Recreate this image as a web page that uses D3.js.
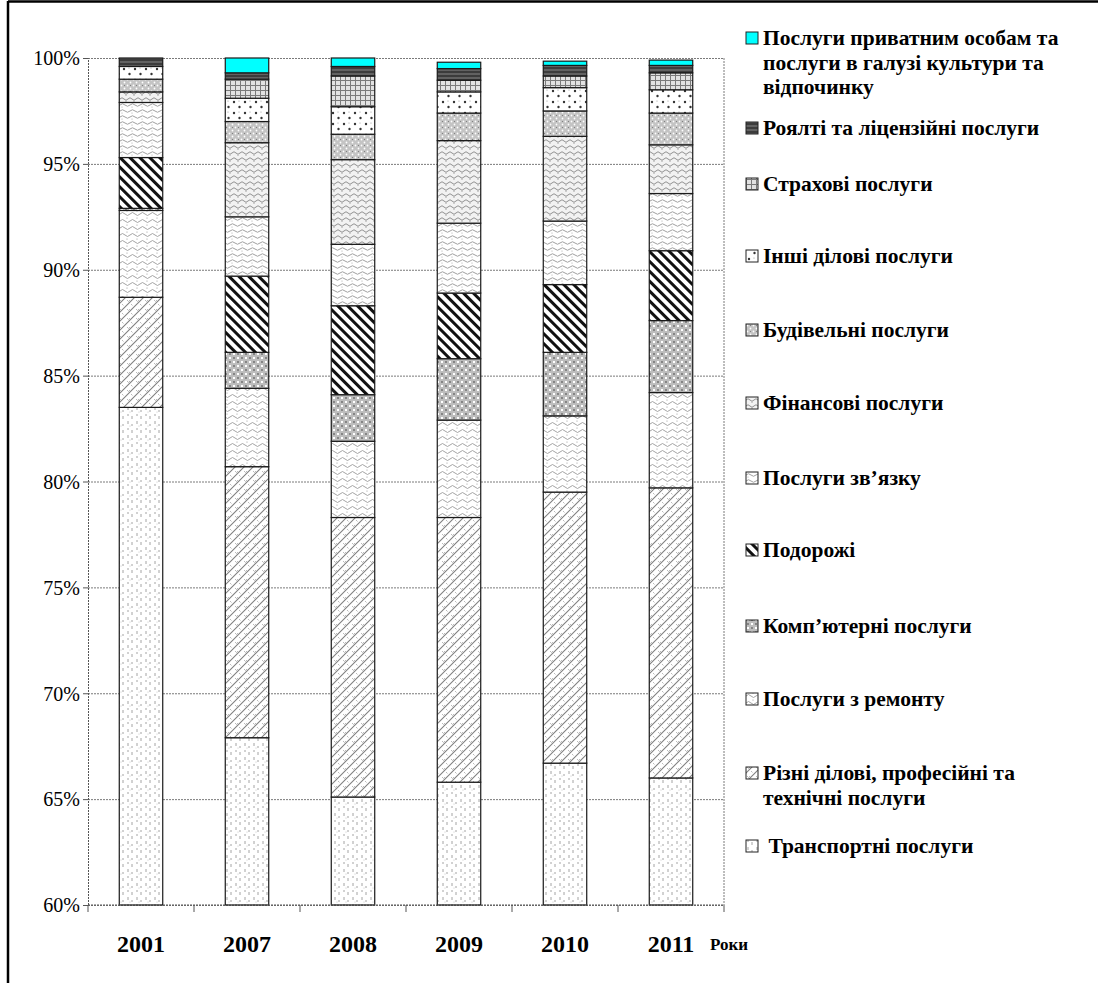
<!DOCTYPE html>
<html>
<head>
<meta charset="utf-8">
<script src="https://cdn.jsdelivr.net/npm/d3@7"></script>
<style>
  body { margin: 0; background: #fff; }
  text { font-family: "Liberation Serif", "Times New Roman", serif; fill: #000; }
</style>
</head>
<body>
<div id="chart"></div>
<script>
// years on the x axis
const years = ["2001", "2007", "2008", "2009", "2010", "2011"];

// shares of service exports, % (stacked bottom -> top)
const transport   = [83.5, 67.9, 65.1, 65.8, 66.7, 66.0];
const business    = [5.2, 12.8, 13.2, 12.5, 12.8, 13.7];
const repair      = [4.1, 3.7, 3.6, 4.6, 3.6, 4.5];
const computer    = [0.1, 1.7, 2.2, 2.9, 3.0, 3.4];
const travel      = [2.4, 3.6, 4.2, 3.1, 3.2, 3.3];
const telecom     = [2.6, 2.8, 2.9, 3.3, 3.0, 2.7];
const financial   = [0.5, 3.5, 4.0, 3.9, 4.0, 2.3];
const construct   = [0.6, 1.0, 1.2, 1.3, 1.2, 1.5];
const otherBiz    = [0.6, 1.1, 1.3, 1.0, 1.1, 1.1];
const insurance   = [0.0, 0.9, 1.45, 0.55, 0.55, 0.8];
const royalties   = [0.4, 0.3, 0.45, 0.55, 0.5, 0.35];
const personal    = [0.0, 0.7, 0.4, 0.3, 0.2, 0.25];

const seriesKeys = ["transport", "business", "repair", "computer", "travel", "telecom",
                    "financial", "construct", "otherBiz", "insurance", "royalties", "personal"];
const seriesValues = [transport, business, repair, computer, travel, telecom,
                      financial, construct, otherBiz, insurance, royalties, personal];

// legend labels (top of legend = top of stack)
const legendLabels = [
  ["Послуги приватним особам та", "послуги в галузі культури та", "відпочинку"],
  ["Роялті та ліцензійні послуги"],
  ["Страхові послуги"],
  ["Інші ділові послуги"],
  ["Будівельні послуги"],
  ["Фінансові послуги"],
  ["Послуги зв’язку"],
  ["Подорожі"],
  ["Комп’ютерні послуги"],
  ["Послуги з ремонту"],
  ["Різні ділові, професійні та", "технічні послуги"],
  [" Транспортні послуги"]
];
const legendY = [38, 128, 184, 256, 330, 403, 478, 550, 626, 699, 773, 846];

const yTicks = [60, 65, 70, 75, 80, 85, 90, 95, 100];

const width = 1098, height = 983;
const plot = { left: 88, right: 724, top: 58, bottom: 905 };

const svg = d3.select("#chart").append("svg")
  .attr("width", width)
  .attr("height", height);

// ---- fill patterns
const defs = svg.append("defs");

function pat(id, w, h, bg) {
  const p = defs.append("pattern")
    .attr("id", id)
    .attr("patternUnits", "userSpaceOnUse")
    .attr("width", w).attr("height", h);
  p.append("rect").attr("width", w).attr("height", h).attr("fill", bg);
  return p;
}

let p = pat("transport", 9, 14, "#fff");
p.append("path").attr("d", "M2,1v3M2,8v2M6,4v2M6,10v3").attr("stroke", "#9a9a9a").attr("stroke-width", 0.9);
p.append("circle").attr("cx", 4).attr("cy", 6).attr("r", 0.5).attr("fill", "#bbb");

p = pat("business", 9, 9, "#fff");
p.append("path").attr("d", "M0,9L9,0M-3,3L3,-3M6,12L12,6").attr("stroke", "#808080").attr("stroke-width", 1.1);
p.append("path").attr("d", "M1,3l1.5,1.5l1.5,-1.5M5,7l1.5,1.5").attr("stroke", "#aaa").attr("stroke-width", 0.8).attr("fill", "none");

p = pat("repair", 10, 7, "#fff");
p.append("path").attr("d", "M0,4Q2.5,1 5,4T10,4").attr("stroke", "#9a9a9a").attr("stroke-width", 0.9).attr("fill", "none");
p.append("circle").attr("cx", 7).attr("cy", 1).attr("r", 0.6).attr("fill", "#999");

p = pat("computer", 8, 8, "#bdbdbd");
p.append("rect").attr("x", 1).attr("y", 1).attr("width", 2).attr("height", 2).attr("fill", "#fff");
p.append("rect").attr("x", 5).attr("y", 5).attr("width", 2).attr("height", 2).attr("fill", "#fff");
p.append("circle").attr("cx", 6).attr("cy", 2).attr("r", 0.9).attr("fill", "#6a6a6a");
p.append("circle").attr("cx", 2).attr("cy", 6).attr("r", 0.9).attr("fill", "#6a6a6a");

p = pat("travel", 7, 7, "#fff").attr("patternTransform", "rotate(-45)");
p.append("rect").attr("width", 3).attr("height", 7).attr("fill", "#111");

p = pat("telecom", 10, 6, "#fff");
p.append("path").attr("d", "M0,3Q2.5,0.5 5,3T10,3").attr("stroke", "#959595").attr("stroke-width", 0.9).attr("fill", "none");
p.append("circle").attr("cx", 2).attr("cy", 5).attr("r", 0.6).attr("fill", "#aaa");

p = pat("financial", 8, 6, "#f2f2f2");
p.append("path").attr("d", "M0,3Q2,0.5 4,3T8,3").attr("stroke", "#858585").attr("stroke-width", 0.9).attr("fill", "none");
p.append("circle").attr("cx", 6).attr("cy", 5.2).attr("r", 0.6).attr("fill", "#999");

p = pat("construct", 6, 6, "#c4c4c4");
p.append("circle").attr("cx", 1.5).attr("cy", 1.5).attr("r", 0.9).attr("fill", "#fff");
p.append("circle").attr("cx", 4.5).attr("cy", 4.5).attr("r", 0.9).attr("fill", "#fff");
p.append("circle").attr("cx", 4.5).attr("cy", 1.5).attr("r", 0.6).attr("fill", "#777");

p = pat("otherBiz", 11, 11, "#fff");
p.append("circle").attr("cx", 3).attr("cy", 3).attr("r", 1.2).attr("fill", "#333");
p.append("circle").attr("cx", 8.5).attr("cy", 8).attr("r", 1.2).attr("fill", "#333");
p.append("circle").attr("cx", 8).attr("cy", 2).attr("r", 0.6).attr("fill", "#999");

p = pat("insurance", 5, 5, "#e2e2e2");
p.append("path").attr("d", "M0,0.5H5M0.5,0V5").attr("stroke", "#7a7a7a").attr("stroke-width", 1);

p = pat("royalties", 4, 4, "#3c3c3c");
p.append("path").attr("d", "M0,2H4").attr("stroke", "#9a9a9a").attr("stroke-width", 0.8);

pat("personal", 4, 4, "#00ffff");

// ---- data table for d3.stack
const table = years.map((yr, i) => {
  const row = { year: yr };
  seriesKeys.forEach((k, j) => { row[k] = seriesValues[j][i]; });
  return row;
});
const stacked = d3.stack().keys(seriesKeys)(table);

// ---- scales
const x = d3.scaleBand()
  .domain(years)
  .range([plot.left, plot.right])
  .paddingInner(0.59)
  .paddingOuter(0.295);

const y = d3.scaleLinear()
  .domain([60, 100])
  .range([plot.bottom, plot.top])
  .clamp(true);

// ---- outer frame
svg.append("line").attr("x1", 8).attr("x2", width).attr("y1", 1.5).attr("y2", 1.5)
  .attr("stroke", "#000").attr("stroke-width", 2.5);
svg.append("line").attr("x1", 8).attr("x2", 8).attr("y1", 1).attr("y2", height)
  .attr("stroke", "#000").attr("stroke-width", 2.5);

// ---- gridlines
svg.append("g")
  .attr("transform", `translate(${plot.left},0)`)
  .call(d3.axisLeft(y).tickValues(yTicks).tickSize(-(plot.right - plot.left)).tickFormat(""))
  .call(g => g.select(".domain").remove())
  .call(g => g.selectAll("line").attr("stroke", "#7a7a7a").attr("stroke-dasharray", "2,1"));

// right border of plot area
svg.append("line")
  .attr("x1", plot.right).attr("x2", plot.right)
  .attr("y1", plot.top).attr("y2", plot.bottom)
  .attr("stroke", "#7a7a7a").attr("stroke-dasharray", "2,1");

// ---- bars
const layers = svg.append("g").selectAll("g")
  .data(stacked)
  .join("g")
  .attr("fill", d => `url(#${d.key})`);

layers.selectAll("rect")
  .data(d => d)
  .join("rect")
  .attr("x", d => x(d.data.year))
  .attr("width", x.bandwidth())
  .attr("y", d => y(d[1]))
  .attr("height", d => y(d[0]) - y(d[1]))
  .attr("stroke", "#1a1a1a")
  .attr("stroke-width", 1.2);

// ---- y axis
const yAxis = svg.append("g")
  .attr("transform", `translate(${plot.left},0)`)
  .call(d3.axisLeft(y).tickValues(yTicks).tickSize(5).tickPadding(3).tickFormat(d => d + "%"));
yAxis.select(".domain").attr("stroke", "#555").attr("stroke-dasharray", "2,1");
yAxis.selectAll(".tick line").attr("stroke", "#555");
yAxis.selectAll("text")
  .attr("font-size", 20)
  .attr("dy", "0.34em");

// ---- x axis (boundary ticks, labels centred under the bars)
const xAxis = svg.append("g").attr("transform", `translate(0,${plot.bottom})`);
xAxis.append("line")
  .attr("x1", plot.left).attr("x2", plot.right)
  .attr("stroke", "#555").attr("stroke-dasharray", "2,1");
const boundaries = d3.range(years.length + 1).map(i => plot.left + i * x.step());
xAxis.selectAll(".bt")
  .data(boundaries)
  .join("line")
  .attr("class", "bt")
  .attr("x1", d => d).attr("x2", d => d)
  .attr("y1", 0).attr("y2", 7)
  .attr("stroke", "#555");
xAxis.selectAll(".lbl")
  .data(years)
  .join("text")
  .attr("class", "lbl")
  .attr("x", d => x(d) + x.bandwidth() / 2)
  .attr("y", 47)
  .attr("text-anchor", "middle")
  .attr("font-size", 24)
  .attr("font-weight", "bold")
  .text(d => d);
xAxis.append("text")
  .attr("x", 710)
  .attr("y", 45)
  .attr("font-size", 17)
  .attr("font-weight", "bold")
  .text("Роки");

// ---- legend
const legendKeys = seriesKeys.slice().reverse();
const legend = svg.append("g");
const items = legend.selectAll("g")
  .data(legendKeys)
  .join("g")
  .attr("transform", (d, i) => `translate(746,${legendY[i]})`);

items.append("rect")
  .attr("x", 0).attr("y", -6)
  .attr("width", 12).attr("height", 12)
  .attr("fill", d => `url(#${d})`)
  .attr("stroke", "#222")
  .attr("stroke-width", 1);

items.append("text")
  .attr("x", 17)
  .attr("y", 7)
  .attr("font-size", 21.5)
  .attr("font-weight", "bold")
  .style("white-space", "pre")
  .each(function(d, i) {
    d3.select(this).selectAll("tspan")
      .data(legendLabels[i])
      .join("tspan")
      .attr("x", 17)
      .attr("dy", (t, j) => j === 0 ? 0 : 24.5)
      .text(t => t);
  });
</script>
</body>
</html>
